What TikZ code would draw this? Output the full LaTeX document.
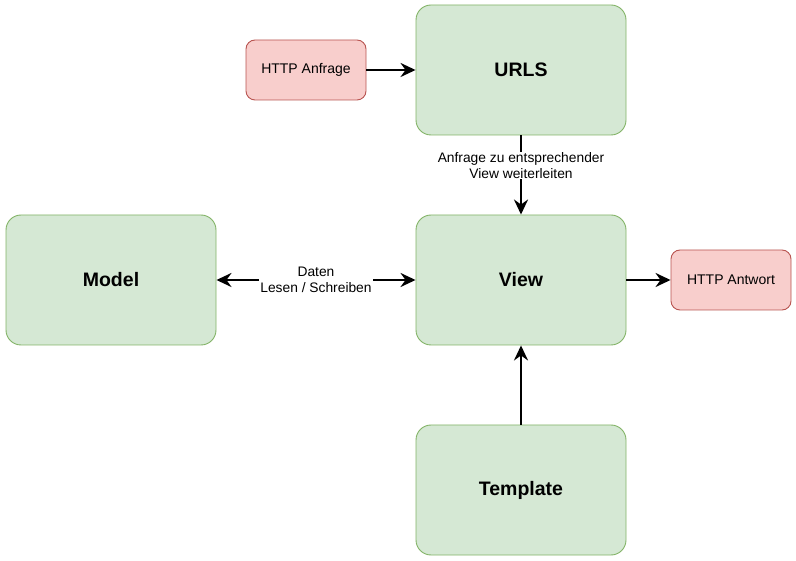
\documentclass[tikz,border=0pt]{standalone}
\usepackage{fontspec}
\setmainfont{Liberation Sans}
\usetikzlibrary{arrows.meta}
\definecolor{gfill}{HTML}{D5E8D4}
\definecolor{gdraw}{HTML}{82B366}
\definecolor{rfill}{HTML}{F8CECC}
\definecolor{rdraw}{HTML}{B85450}
\begin{document}
\begin{tikzpicture}[x=1pt,y=-1pt,
  bigbox/.style={draw=gdraw,fill=gfill,rounded corners=15pt,minimum width=210pt,minimum height=130pt,inner sep=0pt,font=\bfseries\fontsize{19.5}{22}\selectfont,line width=0.9pt},
  smallbox/.style={draw=rdraw,fill=rfill,rounded corners=9pt,minimum width=120pt,minimum height=60pt,inner sep=0pt,font=\fontsize{14}{16}\selectfont,line width=0.9pt},
  tip/.tip={Stealth[length=15pt,width=14pt,inset=5pt]},
  conn/.style={line width=2.8pt,-tip},
  lbl/.style={fill=white,inner sep=1pt,font=\fontsize{13.8}{15.5}\selectfont,align=center}]
\useasboundingbox (0,0) rectangle (796,561);
\node[bigbox] (urls) at (521,70) {URLS};
\node[bigbox] (view) at (521,280) {View};
\node[bigbox] (tmpl) at (521,490) {Template};
\node[bigbox] (model) at (111,280) {Model};
\node[smallbox] (req) at (306,70) {HTTP Anfrage};
\node[smallbox] (resp) at (731,280) {HTTP Antwort};
\draw[conn] (req) -- (urls);
\draw[conn] (urls) -- node[lbl,pos=0.38] (l1) {Anfrage zu entsprechender\\View weiterleiten} (view);
\draw[conn,tip-tip] (model) -- node[lbl] (l2) {Daten\\Lesen / Schreiben} (view);
\draw[conn] (view) -- (resp);
\draw[conn] (tmpl) -- (view);
\end{tikzpicture}
\end{document}
